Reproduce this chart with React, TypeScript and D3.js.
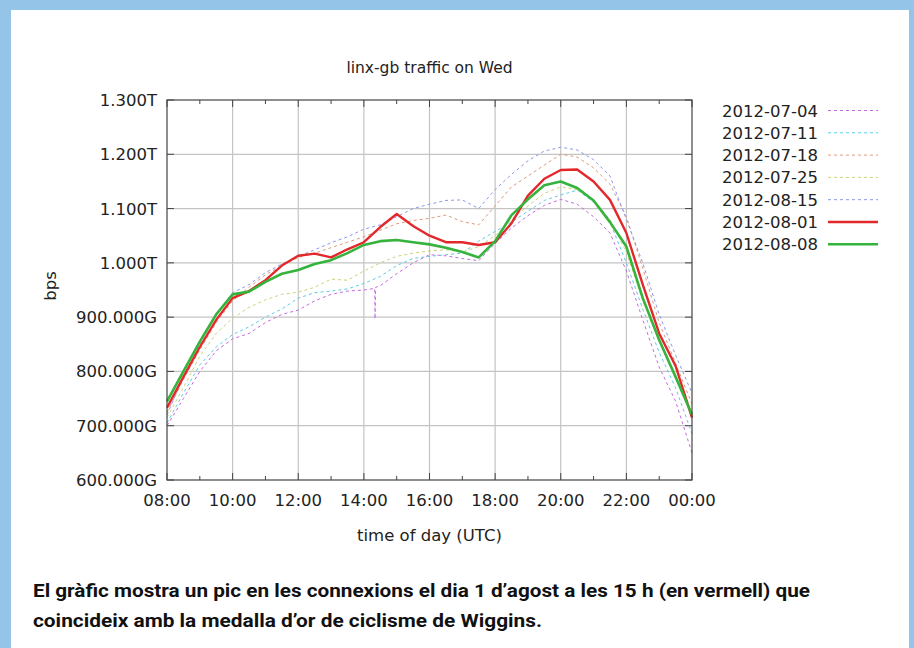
import React from 'react';
import * as d3 from 'd3';

// half-hour sample times (hours, 24 = midnight)
const hours = [8, 8.5, 9, 9.5, 10, 10.5, 11, 11.5, 12, 12.5, 13, 13.5, 14, 14.5, 15, 15.5,
  16, 16.5, 17, 17.5, 18, 18.5, 19, 19.5, 20, 20.5, 21, 21.5, 22, 22.5, 23, 23.5, 24];

// traffic in Gbps
const jul04 = [700, 750, 800, 838, 860, 870, 890, 905, 913, 930, 942, 948, 950, 958, 980, 1000,
  1015, 1013, 1008, 1004, 1036, 1064, 1087, 1106, 1117, 1108, 1085, 1055, 985, 895, 808, 745, 650];
const jul11 = [705, 760, 812, 845, 868, 882, 900, 915, 935, 945, 948, 952, 962, 975, 995, 1008,
  1012, 1015, 1018, 1040, 1058, 1075, 1095, 1115, 1125, 1134, 1112, 1075, 1000, 915, 835, 770, 685];
const jul18 = [725, 785, 840, 890, 930, 955, 978, 995, 1010, 1018, 1028, 1038, 1048, 1060, 1072, 1078,
  1082, 1088, 1076, 1070, 1105, 1140, 1160, 1180, 1200, 1195, 1175, 1145, 1085, 990, 890, 815, 740];
const jul25 = [715, 770, 828, 870, 898, 918, 932, 942, 946, 955, 970, 968, 985, 1000, 1012, 1018,
  1022, 1024, 1020, 1030, 1050, 1080, 1105, 1128, 1140, 1135, 1115, 1080, 1020, 930, 855, 790, 720];
const aug15 = [720, 790, 850, 905, 945, 960, 982, 998, 1012, 1024, 1037, 1048, 1062, 1070, 1085, 1100,
  1108, 1115, 1116, 1100, 1135, 1163, 1188, 1206, 1213, 1208, 1190, 1160, 1080, 1000, 905, 830, 760];
const aug01 = [733, 790, 845, 895, 935, 948, 968, 995, 1013, 1017, 1010, 1025, 1038, 1066, 1090, 1068,
  1050, 1038, 1038, 1033, 1038, 1073, 1124, 1155, 1171, 1172, 1150, 1116, 1055, 960, 870, 810, 715];
const aug08 = [745, 800, 855, 905, 942, 947, 965, 980, 987, 998, 1005, 1018, 1033, 1040, 1042, 1038,
  1034, 1028, 1020, 1010, 1040, 1088, 1117, 1143, 1150, 1138, 1115, 1075, 1030, 935, 858, 790, 720];

// short dip in the 2012-07-04 series around 14:20
const jul04Dip: [number, number][] = [[14.33, 953], [14.34, 897], [14.36, 955]];

const names = ['2012-07-04', '2012-07-11', '2012-07-18', '2012-07-25', '2012-08-15', '2012-08-01', '2012-08-08'];
const values = [jul04, jul11, jul18, jul25, aug15, aug01, aug08];

const yTicks = [600, 700, 800, 900, 1000, 1100, 1200, 1300];
const xTicks = [8, 10, 12, 14, 16, 18, 20, 22, 24];
const xMinor = [9, 11, 13, 15, 17, 19, 21, 23];

const colors = ['#c46be0', '#5ccbe6', '#d99a7e', '#c9d47a', '#8b98e8', '#e3282b', '#35b33c'];
const widths = [1, 1, 1, 1, 1, 2.4, 2.6];
const dashed = [true, true, true, true, true, false, false];

const left = 167, right = 692, top = 100, bottom = 480;
const font = 'DejaVu Sans, sans-serif';

export default function App() {
  const x = d3.scaleLinear().domain([8, 24]).range([left, right]);
  const y = d3.scaleLinear().domain([600, 1300]).range([bottom, top]);
  const line = d3.line<[number, number]>().x(d => x(d[0])).y(d => y(d[1]));

  const points = values.map((vals, i) => {
    const pts: [number, number][] = hours.map((h, j) => [h, vals[j]]);
    if (i === 0) {
      pts.push(...jul04Dip);
      pts.sort((a, b) => a[0] - b[0]);
    }
    return pts;
  });

  const yLabel = (v: number) => v >= 1000 ? (v / 1000).toFixed(3) + 'T' : v.toFixed(3) + 'G';
  const xLabel = (h: number) => String(h % 24).padStart(2, '0') + ':00';

  return (
    <svg width={914} height={648} style={{ position: 'absolute', left: 0, top: 0 }}>
      <rect x={0} y={0} width={914} height={648} fill="#94c5e8" />
      <rect x={11} y={10} width={898} height={638} fill="#fff" />

      <text x={(left + right) / 2} y={73} textAnchor="middle" fontFamily={font} fontSize={15.5} fill="#222">
        linx-gb traffic on Wed
      </text>

      {/* grid */}
      {yTicks.slice(1, -1).map(v => (
        <line key={'gy' + v} x1={left} x2={right} y1={y(v)} y2={y(v)} stroke="#c4c4c4" strokeWidth={1.2} />
      ))}
      {xTicks.slice(1, -1).map(h => (
        <line key={'gx' + h} x1={x(h)} x2={x(h)} y1={top} y2={bottom} stroke="#c4c4c4" strokeWidth={1.2} />
      ))}

      {/* ticks */}
      {yTicks.map(v => (
        <g key={'ty' + v} stroke="#444" strokeWidth={1}>
          <line x1={left} x2={left + 7} y1={y(v)} y2={y(v)} />
          <line x1={right} x2={right - 7} y1={y(v)} y2={y(v)} />
        </g>
      ))}
      {xTicks.map(h => (
        <g key={'tx' + h} stroke="#444" strokeWidth={1}>
          <line x1={x(h)} x2={x(h)} y1={bottom} y2={bottom - 7} />
          <line x1={x(h)} x2={x(h)} y1={top} y2={top + 7} />
        </g>
      ))}
      {xMinor.map(h => (
        <g key={'tm' + h} stroke="#444" strokeWidth={1}>
          <line x1={x(h)} x2={x(h)} y1={bottom} y2={bottom - 4} />
          <line x1={x(h)} x2={x(h)} y1={top} y2={top + 4} />
        </g>
      ))}

      {/* series */}
      {points.map((pts, i) => (
        <path key={names[i]} d={line(pts) || ''} fill="none" stroke={colors[i]} strokeWidth={widths[i]}
          strokeDasharray={dashed[i] ? '3,3' : undefined} strokeLinejoin="round" />
      ))}

      <rect x={left} y={top} width={right - left} height={bottom - top} fill="none" stroke="#444" strokeWidth={1.2} />

      {/* axis labels */}
      {yTicks.map(v => (
        <text key={'ly' + v} x={left - 10} y={y(v) + 6} textAnchor="end" fontFamily={font} fontSize={16.5} fill="#222">
          {yLabel(v)}
        </text>
      ))}
      {xTicks.map(h => (
        <text key={'lx' + h} x={x(h)} y={506} textAnchor="middle" fontFamily={font} fontSize={16.5} fill="#222">
          {xLabel(h)}
        </text>
      ))}
      <text x={(left + right) / 2} y={541} textAnchor="middle" fontFamily={font} fontSize={16.5} fill="#222">
        time of day (UTC)
      </text>
      <text transform="translate(56,286) rotate(-90)" textAnchor="middle" fontFamily={font} fontSize={16.5} fill="#222">
        bps
      </text>

      {/* legend */}
      {names.map((n, i) => {
        const ly = 110.5 + i * 22.3;
        return (
          <g key={'lg' + n}>
            <text x={818} y={ly + 6} textAnchor="end" fontFamily={font} fontSize={16.5} fill="#222">{n}</text>
            <line x1={828} x2={878} y1={ly} y2={ly} stroke={colors[i]} strokeWidth={widths[i]}
              strokeDasharray={dashed[i] ? '3,3' : undefined} />
          </g>
        );
      })}

      {/* caption */}
      <text x={33} y={597} fontFamily="Roboto, sans-serif" fontWeight={700} fontSize={19} fill="#111"
        textLength={777} lengthAdjust="spacingAndGlyphs">
        El gràfic mostra un pic en les connexions el dia 1 d’agost a les 15 h (en vermell) que
      </text>
      <text x={33} y={627} fontFamily="Roboto, sans-serif" fontWeight={700} fontSize={19} fill="#111"
        textLength={509} lengthAdjust="spacingAndGlyphs">
        coincideix amb la medalla d’or de ciclisme de Wiggins.
      </text>
    </svg>
  );
}
